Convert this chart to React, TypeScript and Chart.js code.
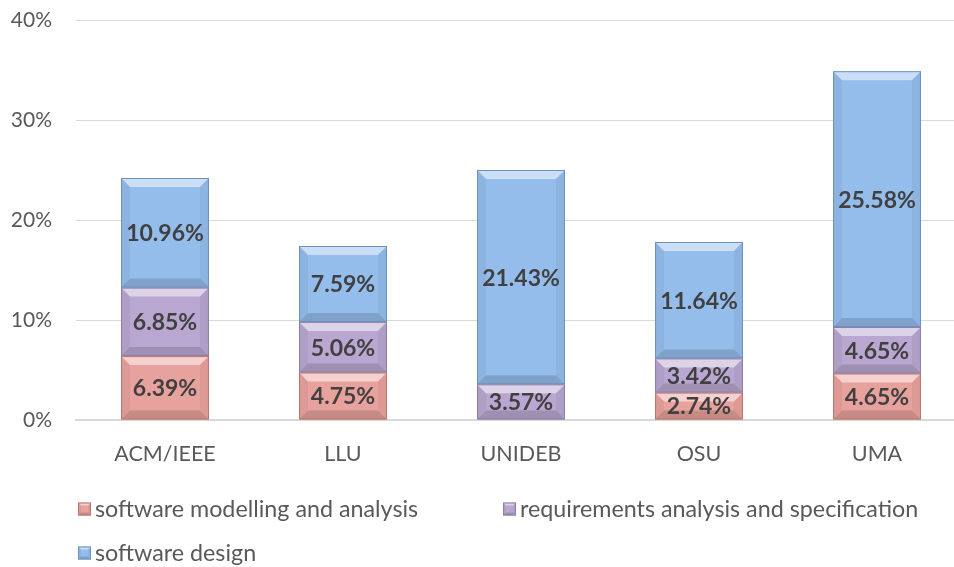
import React, { useEffect, useRef } from "react";
import { Chart, registerables } from "chart.js";

Chart.register(...registerables);

const categories = ["ACM/IEEE", "LLU", "UNIDEB", "OSU", "UMA"];
const modelling = [6.39, 4.75, 0, 2.74, 4.65];
const requirements = [6.85, 5.06, 3.57, 3.42, 4.65];
const design = [10.96, 7.59, 21.43, 11.64, 25.58];
const seriesLabels = [
  "software modelling and analysis",
  "requirements analysis and specification",
  "software design",
];
const yMin = 0;
const yMax = 40;
const yStep = 10;

const FONT = "Lato, 'Open Sans', 'Liberation Sans', sans-serif";
const fills = ["#E8A29D", "#B9A7D1", "#95BDEC"];
const borders = ["#B97670", "#8E7DA8", "#6E90BE"];

function poly(ctx: CanvasRenderingContext2D, pts: number[][]) {
  ctx.beginPath();
  ctx.moveTo(pts[0][0], pts[0][1]);
  for (let i = 1; i < pts.length; i++) ctx.lineTo(pts[i][0], pts[i][1]);
  ctx.closePath();
  ctx.fill();
}

function bevelBox(ctx: CanvasRenderingContext2D, l: number, t: number, r: number, b: number, d: number, border: string) {
  ctx.fillStyle = "rgba(255,255,255,0.5)";
  poly(ctx, [[l, t], [r, t], [r - d, t + d], [l + d, t + d]]);
  ctx.fillStyle = "rgba(0,0,0,0.14)";
  poly(ctx, [[l, b], [r, b], [r - d, b - d], [l + d, b - d]]);
  ctx.fillStyle = "rgba(0,0,0,0.05)";
  poly(ctx, [[l, t], [l + d, t + d], [l + d, b - d], [l, b]]);
  poly(ctx, [[r, t], [r - d, t + d], [r - d, b - d], [r, b]]);
  ctx.strokeStyle = border;
  ctx.lineWidth = 1;
  ctx.strokeRect(l + 0.5, t + 0.5, r - l - 1, b - t - 1);
}

const bevelAndLabels = {
  id: "bevelAndLabels",
  afterDatasetsDraw(chart: any) {
    const ctx: CanvasRenderingContext2D = chart.ctx;
    ctx.save();
    chart.data.datasets.forEach((ds: any, di: number) => {
      const meta = chart.getDatasetMeta(di);
      meta.data.forEach((el: any, i: number) => {
        const v = ds.data[i];
        if (!v) return;
        const p = el.getProps(["x", "y", "base", "width"], true);
        const l = p.x - p.width / 2;
        const r = p.x + p.width / 2;
        const t = Math.min(p.y, p.base);
        const b = Math.max(p.y, p.base);
        const d = Math.min(9, (b - t) / 3);
        bevelBox(ctx, l, t, r, b, d, borders[di]);
      });
    });
    ctx.fillStyle = "#404040";
    ctx.font = `bold 23px ${FONT}`;
    ctx.textAlign = "center";
    ctx.textBaseline = "middle";
    chart.data.datasets.forEach((ds: any, di: number) => {
      const meta = chart.getDatasetMeta(di);
      meta.data.forEach((el: any, i: number) => {
        const v = ds.data[i];
        if (!v) return;
        const p = el.getProps(["x", "y", "base"], true);
        ctx.fillText(v.toFixed(2) + "%", p.x, (p.y + p.base) / 2 + 1);
      });
    });
    ctx.restore();
  },
};

const customLegend = {
  id: "customLegend",
  afterDraw(chart: any) {
    const ctx: CanvasRenderingContext2D = chart.ctx;
    const area = chart.chartArea;
    const positions = [
      [area.left + 2, area.bottom + 89],
      [area.left + 427, area.bottom + 89],
      [area.left + 2, area.bottom + 133],
    ];
    ctx.save();
    ctx.font = `23.3px ${FONT}`;
    ctx.textBaseline = "middle";
    ctx.textAlign = "left";
    chart.data.datasets.forEach((ds: any, di: number) => {
      const [x, y] = positions[di];
      const s = 13;
      ctx.fillStyle = fills[di];
      ctx.fillRect(x, y - s / 2, s, s);
      bevelBox(ctx, x, y - s / 2, x + s, y + s / 2, 3, borders[di]);
      ctx.fillStyle = "#595959";
      ctx.fillText(ds.label, x + 17, y);
    });
    ctx.restore();
  },
};

export default function App() {
  const ref = useRef<HTMLCanvasElement>(null);
  useEffect(() => {
    if (!ref.current) return;
    const series = [modelling, requirements, design];
    const chart = new Chart(ref.current, {
      type: "bar",
      data: {
        labels: categories,
        datasets: series.map((data, i) => ({
          label: seriesLabels[i],
          data,
          backgroundColor: fills[i],
          borderWidth: 0,
          barPercentage: 0.494,
          categoryPercentage: 1,
        })),
      },
      options: {
        responsive: false,
        animation: false,
        layout: { padding: { top: 20, bottom: 87, left: 0, right: 0 } },
        plugins: { legend: { display: false }, tooltip: { enabled: false } },
        scales: {
          x: {
            stacked: true,
            grid: { display: false, drawTicks: false },
            border: { display: true, color: "#D9D9D9", width: 2 },
            ticks: { color: "#595959", font: { size: 21.5, family: FONT }, padding: 21 },
            afterFit: (s: any) => { s.height = 60; },
          },
          y: {
            stacked: true,
            min: yMin,
            max: yMax,
            grid: { color: "#D9D9D9", drawTicks: false },
            border: { display: false },
            ticks: {
              stepSize: yStep,
              color: "#595959",
              font: { size: 21, family: FONT },
              padding: 24,
              callback: (v: any) => v + "%",
            },
            afterFit: (s: any) => { s.width = 76; s.paddingTop = 0; s.paddingBottom = 0; },
          },
        },
      },
      plugins: [bevelAndLabels, customLegend],
    });
    return () => chart.destroy();
  }, []);
  return (
    <div style={{ position: "fixed", left: 0, top: 0, width: 954, height: 567, overflow: "hidden", background: "#fff" }}>
      <canvas ref={ref} width={966} height={567} style={{ display: "block" }} />
    </div>
  );
}
